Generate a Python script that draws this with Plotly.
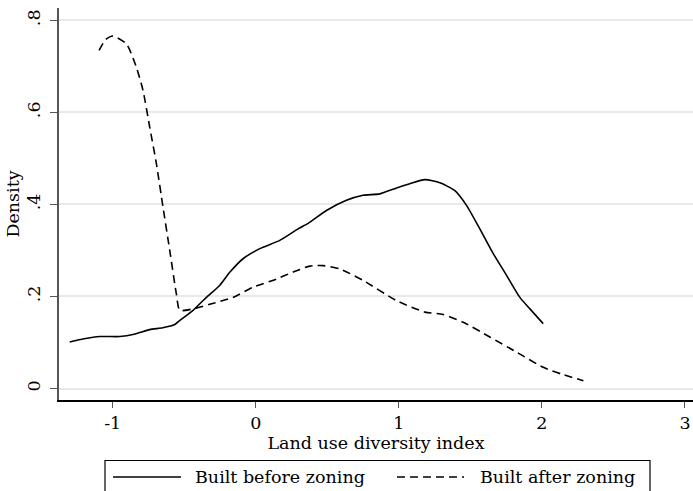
import plotly.graph_objects as go

# Built before zoning (solid)
before_x = [-1.30, -1.20, -1.09, -0.95, -0.85, -0.741, -0.65, -0.566, -0.53, -0.438, -0.345, -0.252,
            -0.18, -0.089, 0.028, 0.168, 0.296, 0.366, 0.494, 0.634, 0.75, 0.867, 0.984,
            1.077, 1.182, 1.287, 1.392, 1.473, 1.566, 1.66, 1.753, 1.846, 1.916, 2.009]
before_y = [0.101, 0.108, 0.113, 0.113, 0.118, 0.128, 0.132, 0.139, 0.148, 0.170, 0.198, 0.224,
            0.253, 0.282, 0.304, 0.322, 0.347, 0.359, 0.387, 0.409, 0.420, 0.423, 0.436,
            0.445, 0.454, 0.447, 0.430, 0.398, 0.347, 0.293, 0.246, 0.198, 0.173, 0.141]

# Built after zoning (dashed)
after_x = [-1.095, -1.05, -0.998, -0.904, -0.834, -0.788, -0.741, -0.694, -0.648, -0.601, -0.555,
           -0.531, -0.438, -0.322, -0.159, -0.019, 0.145, 0.261, 0.378, 0.471, 0.587, 0.75,
           0.984, 1.182, 1.31, 1.45, 1.636, 1.823, 2.009, 2.15, 2.29]
after_y = [0.735, 0.758, 0.766, 0.749, 0.698, 0.648, 0.568, 0.488, 0.394, 0.300, 0.206,
           0.170, 0.173, 0.183, 0.198, 0.220, 0.238, 0.253, 0.266, 0.267, 0.260, 0.235,
           0.191, 0.166, 0.161, 0.144, 0.112, 0.079, 0.046, 0.030, 0.017]

x_ticks = [-1, 0, 1, 2, 3]
x_ticktext = ["-1", "0", "1", "2", "3"]
y_ticks = [0, 0.2, 0.4, 0.6, 0.8]
y_ticktext = ["0", ".2", ".4", ".6", ".8"]

series_names = ["Built before zoning", "Built after zoning"]

FONT = "DejaVu Serif"
FS = 17.5
W, H = 693, 491
ML, MR, MT, MB = 59, 0, 8, 91

fig = go.Figure()
fig.add_trace(go.Scatter(x=before_x, y=before_y, mode="lines", name=series_names[0],
                         line=dict(color="black", width=1.6, shape="spline", smoothing=0.6),
                         showlegend=False))
fig.add_trace(go.Scatter(x=after_x, y=after_y, mode="lines", name=series_names[1],
                         line=dict(color="black", width=1.6, dash="8px,5px", shape="spline", smoothing=0.6),
                         showlegend=False))

fig.update_layout(
    width=W, height=H,
    margin=dict(l=ML, r=MR, t=MT, b=MB, pad=0),
    paper_bgcolor="white", plot_bgcolor="white",
    font=dict(family=FONT, size=FS, color="black"),
    xaxis=dict(range=[-1.375, 3.056], tickvals=x_ticks, ticktext=x_ticktext,
               showgrid=False, zeroline=False, showline=True, linecolor="black", linewidth=1.5,
               ticks="outside", ticklen=6, tickwidth=1.2, tickcolor="#555",
               title=dict(text="Land use diversity index", font=dict(size=FS), standoff=0)),
    yaxis=dict(range=[-0.025, 0.827], tickvals=y_ticks, ticktext=y_ticktext, tickangle=-90,
               ticklabelstandoff=3,
               showgrid=True, gridcolor="#e9e9e9", gridwidth=1.5, zeroline=False,
               showline=True, linecolor="#555", linewidth=1.5,
               ticks="outside", ticklen=7, tickwidth=1.2, tickcolor="#555",
               title=dict(text="Density", font=dict(size=FS), standoff=0)),
)

# manual legend box (Stata style)
def px_to_paper_x(px):
    return (px - ML) / (W - ML - MR)

def py_to_paper_y(py):
    return (H - MB - py) / (H - MT - MB)

fig.add_shape(type="rect", xref="paper", yref="paper",
              x0=px_to_paper_x(105), x1=px_to_paper_x(650),
              y0=py_to_paper_y(500), y1=py_to_paper_y(460.5),
              line=dict(color="black", width=1.2), fillcolor="white", layer="above")
fig.add_shape(type="line", xref="paper", yref="paper",
              x0=px_to_paper_x(113), x1=px_to_paper_x(181),
              y0=py_to_paper_y(477), y1=py_to_paper_y(477),
              line=dict(color="black", width=1.6))
fig.add_shape(type="line", xref="paper", yref="paper",
              x0=px_to_paper_x(397), x1=px_to_paper_x(464),
              y0=py_to_paper_y(477), y1=py_to_paper_y(477),
              line=dict(color="black", width=1.6, dash="8px,5px"))
fig.add_annotation(xref="paper", yref="paper", x=px_to_paper_x(193), y=py_to_paper_y(477),
                   text=series_names[0], showarrow=False, xanchor="left", yanchor="middle",
                   font=dict(family=FONT, size=FS, color="black"))
fig.add_annotation(xref="paper", yref="paper", x=px_to_paper_x(478), y=py_to_paper_y(477),
                   text=series_names[1], showarrow=False, xanchor="left", yanchor="middle",
                   font=dict(family=FONT, size=FS, color="black"))

fig.write_html("out.html")
